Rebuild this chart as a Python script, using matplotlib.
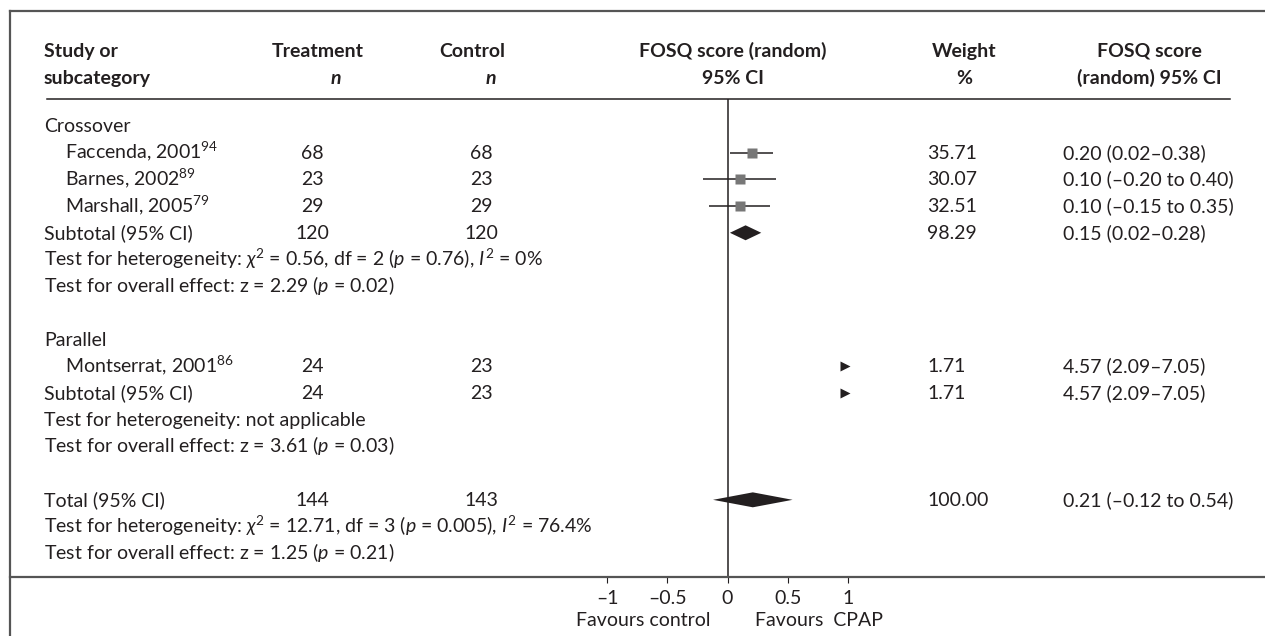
import matplotlib
matplotlib.use("Agg")
import matplotlib.pyplot as plt
from matplotlib.lines import Line2D
from matplotlib.patches import Polygon
from matplotlib import transforms as mtransforms

plt.rcParams['font.family'] = ['Lato', 'DejaVu Sans']
plt.rcParams['mathtext.fontset'] = 'custom'
plt.rcParams['mathtext.rm'] = 'Lato'
plt.rcParams['mathtext.it'] = 'Lato:italic'
plt.rcParams['mathtext.bf'] = 'Lato:bold'

# ---- data ----
study_names = ["Faccenda, 2001", "Barnes, 2002", "Marshall, 2005", "Montserrat, 2001"]
study_refs = ["94", "89", "79", "86"]
study_group = ["Crossover", "Crossover", "Crossover", "Parallel"]
treat_n = [68, 23, 29, 24]
ctrl_n = [68, 23, 29, 23]
effect = [0.20, 0.10, 0.10, 4.57]
ci_low = [0.02, -0.20, -0.15, 2.09]
ci_high = [0.38, 0.40, 0.35, 7.05]
weights = [35.71, 30.07, 32.51, 1.71]

groups = ["Crossover", "Parallel"]
sub_treat_n = [120, 24]
sub_ctrl_n = [120, 23]
sub_effect = [0.15, 4.57]
sub_low = [0.02, 2.09]
sub_high = [0.28, 7.05]
sub_weight = [98.29, 1.71]
sub_het = ["Test for heterogeneity: $\\chi^2$ = 0.56, df = 2 ($p$ = 0.76), $I^2$ = 0%",
           "Test for heterogeneity: not applicable"]
sub_overall = ["Test for overall effect: z = 2.29 ($p$ = 0.02)",
               "Test for overall effect: z = 3.61 ($p$ = 0.03)"]

total_treat_n = 144
total_ctrl_n = 143
total_effect = 0.21
total_low = -0.12
total_high = 0.54
total_weight = 100.00
total_het = "Test for heterogeneity: $\\chi^2$ = 12.71, df = 3 ($p$ = 0.005), $I^2$ = 76.4%"
total_overall = "Test for overall effect: z = 1.25 ($p$ = 0.21)"

tick_values = [-1, -0.5, 0, 0.5, 1]
tick_labels = ["\u20131", "\u20130.5", "0", "0.5", "1"]
favours_left = "Favours control"
favours_right = "Favours  CPAP"

# ---- layout ----
W, H = 1265, 636
TXT = "#231f20"
FS = 14
fig = plt.figure(figsize=(W / 100, H / 100), dpi=100)


def fx(px):
    return px / W


def fy(py):
    return 1 - py / H


ax = fig.add_axes([fx(607), fy(577), (848 - 607) / W, (577 - 99) / H])
xmin, xmax = -1, 1
ax.set_xlim(xmin, xmax)
ax.set_ylim(16.89, -1.01)
for side in ("top", "right", "left", "bottom"):
    ax.spines[side].set_visible(False)
ax.set_yticks([])
ax.set_xticks(tick_values, tick_labels)
ax.tick_params(axis="x", direction="out", length=4.5, width=0.8, pad=5,
               labelsize=FS, colors=TXT)
ax.patch.set_alpha(0)
ax.axvline(0, color=TXT, lw=1.1, zorder=1)

# text rows: x in figure fraction, y on the row scale, baseline a few px below
baseline_shift = mtransforms.ScaledTranslation(0, -6 / 100, fig.dpi_scale_trans)
row_tr = mtransforms.blended_transform_factory(fig.transFigure, ax.transData) + baseline_shift
edge_tr = mtransforms.blended_transform_factory(fig.transFigure, ax.transAxes)

# frame and rules
fig.add_artist(Line2D([fx(10), 1], [fy(11), fy(11)], color="#555555", lw=1.6))
fig.add_artist(Line2D([fx(10), fx(10)], [0, fy(11)], color="#555555", lw=1.6))
fig.add_artist(Line2D([fx(47), fx(1230)], [1, 1], transform=edge_tr, color=TXT, lw=1.1))
fig.add_artist(Line2D([fx(10), 1], [0, 0], transform=edge_tr, color="#555555", lw=1.6))

COL_STUDY = fx(44)
COL_INDENT = fx(65)
COL_TREAT = fx(312)
COL_CTRL = fx(481)
COL_WEIGHT = fx(927)
COL_CI = fx(1063)


def txt(x, y, s, ha="left", **kw):
    ax.text(x, y, s, transform=row_tr, ha=ha, va="baseline", fontsize=FS,
            color=TXT, **kw)


# header
H1, H2 = -2.82, -1.80
txt(COL_STUDY, H1, "Study or", fontweight="bold")
txt(COL_STUDY, H2, "subcategory", fontweight="bold")
txt(fx(318), H1, "Treatment", ha="center", fontweight="bold")
txt(fx(336), H2, "n", ha="center", fontweight="bold", fontstyle="italic")
txt(fx(472), H1, "Control", ha="center", fontweight="bold")
txt(fx(491), H2, "n", ha="center", fontweight="bold", fontstyle="italic")
txt(fx(733), H1, "FOSQ score (random)", ha="center", fontweight="bold")
txt(fx(733), H2, "95% CI", ha="center", fontweight="bold")
txt(fx(964), H1, "Weight", ha="center", fontweight="bold")
txt(fx(964), H2, "%", ha="center", fontweight="bold")
txt(fx(1149), H1, "FOSQ score", ha="center", fontweight="bold")
txt(fx(1149), H2, "(random) 95% CI", ha="center", fontweight="bold")


def ci_text(e, lo, hi):
    def f(v):
        return f"{v:.2f}".replace("-", "\u2013")
    if lo < 0:
        return f"{f(e)} ({f(lo)} to {f(hi)})"
    return f"{f(e)} ({f(lo)}\u2013{f(hi)})"


def draw_estimate(y, e, lo, hi, w):
    if lo > xmax:
        off = mtransforms.ScaledTranslation(-3 / 100, 0, fig.dpi_scale_trans)
        ax.plot([xmax], [y], marker=">", ms=7.5, color=TXT, mec="none",
                transform=ax.transData + off, clip_on=False)
        return
    ax.hlines(y, lo, hi, color=TXT, lw=1.1, zorder=2)
    ax.plot([e], [y], marker="s", ms=7.2 * (w / 35.71) ** 0.5, color="#777777",
            mec="none", zorder=3)


def draw_diamond(y, e, lo, hi):
    if lo > xmax:
        draw_estimate(y, e, lo, hi, 0)
        return
    h = 0.28
    ax.add_patch(Polygon([(lo, y), (e, y - h), (hi, y), (e, y + h)],
                         closed=True, color=TXT, lw=0, zorder=3))


row = 0
for g, group in enumerate(groups):
    txt(COL_STUDY, row, group)
    row += 1
    for i, name in enumerate(study_names):
        if study_group[i] != group:
            continue
        txt(COL_INDENT, row, f"{name}$^{{{study_refs[i]}}}$")
        txt(COL_TREAT, row, str(treat_n[i]), ha="center")
        txt(COL_CTRL, row, str(ctrl_n[i]), ha="center")
        txt(COL_WEIGHT, row, f"{weights[i]:.2f}")
        txt(COL_CI, row, ci_text(effect[i], ci_low[i], ci_high[i]))
        draw_estimate(row, effect[i], ci_low[i], ci_high[i], weights[i])
        row += 1
    txt(COL_STUDY, row, "Subtotal (95% CI)")
    txt(COL_TREAT, row, str(sub_treat_n[g]), ha="center")
    txt(COL_CTRL, row, str(sub_ctrl_n[g]), ha="center")
    txt(COL_WEIGHT, row, f"{sub_weight[g]:.2f}")
    txt(COL_CI, row, ci_text(sub_effect[g], sub_low[g], sub_high[g]))
    draw_diamond(row, sub_effect[g], sub_low[g], sub_high[g])
    row += 1
    txt(COL_STUDY, row, sub_het[g])
    row += 1
    txt(COL_STUDY, row, sub_overall[g])
    row += 2

txt(COL_STUDY, row, "Total (95% CI)")
txt(COL_TREAT, row, str(total_treat_n), ha="center")
txt(COL_CTRL, row, str(total_ctrl_n), ha="center")
txt(COL_WEIGHT, row, f"{total_weight:.2f}")
txt(COL_CI, row, ci_text(total_effect, total_low, total_high))
draw_diamond(row, total_effect, total_low, total_high)
row += 1
txt(COL_STUDY, row, total_het)
row += 1
txt(COL_STUDY, row, total_overall)

fig.text(fx(643), fy(621), favours_left, ha="center", va="center",
         fontsize=FS, color=TXT)
fig.text(fx(819), fy(621), favours_right, ha="center", va="center",
         fontsize=FS, color=TXT)

fig.savefig("out.png", dpi=100, facecolor="white")
